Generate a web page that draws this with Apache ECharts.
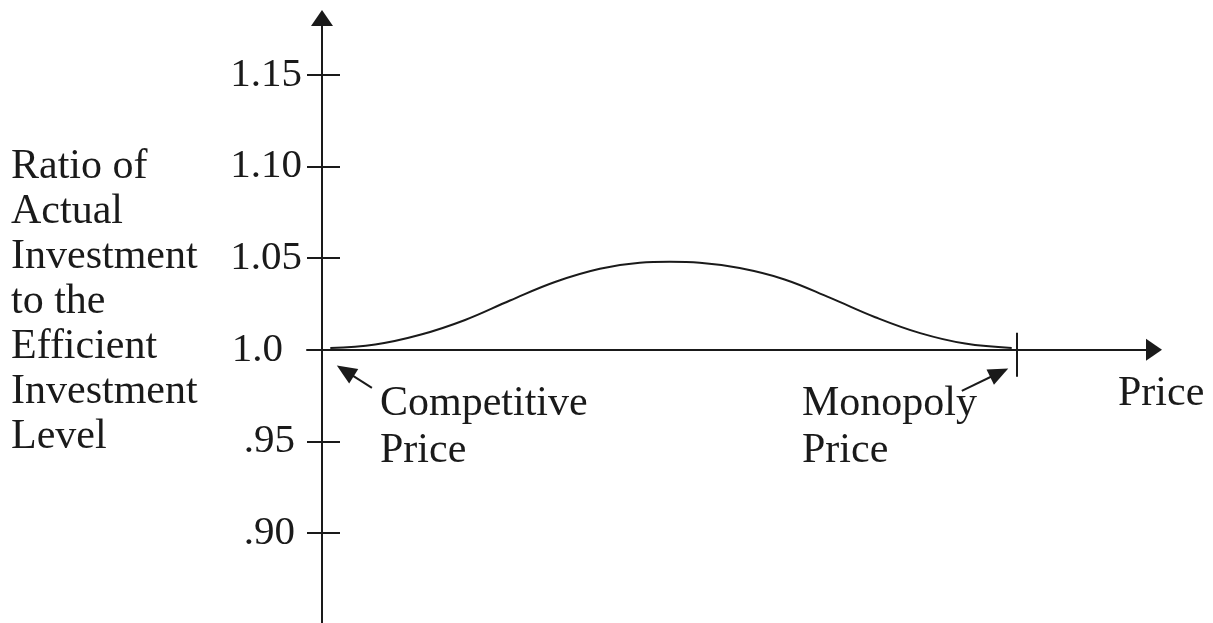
<!DOCTYPE html>
<html>
<head>
    <meta charset="utf-8">
    <title>Ratio of Actual Investment to the Efficient Investment Level</title>
    <script src="https://cdn.jsdelivr.net/npm/echarts@6.0.0/dist/echarts.min.js"></script>
    <style>
        html, body { margin: 0; padding: 0; background: #fff; }
        #chart { width: 1213px; height: 623px; }
    </style>
</head>
<body>
<div id="chart"></div>
<script>
    // price in arbitrary units: competitive price near 1, monopoly price at 83.5
    var prices = [1.0, 6.4, 11.8, 17.2, 22.6, 28.0, 33.4, 38.2, 41.8, 45.4, 50.2, 55.6, 61.1, 66.5, 71.9, 77.3, 82.9];
    var ratios = [1.001, 1.0029, 1.0082, 1.0163, 1.0269, 1.037, 1.0442, 1.0475, 1.048, 1.0475, 1.0446, 1.0384, 1.0283, 1.0178, 1.0091, 1.0034, 1.001];
    var yTickValues = [0.90, 0.95, 1.0, 1.05, 1.10, 1.15];
    var yTickLabels = ['.90', '.95', '1.0', '1.05', '1.10', '1.15'];
    var monopolyPrice = 83.5;
    // annotation arrows, [tail, head] in data units
    var compArrow = [[6.0, 0.9793], [2.8, 0.9885]];
    var monoArrow = [[76.9, 0.9776], [81.4, 0.9875]];

    var ink = '#1a1a1a';
    var serif = '"Liberation Serif", "Times New Roman", serif';
    var yMin = 0.851, yMax = 1.181;
    var xMin = -1.8, xMax = 100;
    var gridTop = 18, gridBottom = 0;
    var gridHeight = 623 - gridTop - gridBottom;
    // x axis sits on ratio = 1.0
    var xOffset = -gridHeight * (1.0 - yMin) / (yMax - yMin);

    function tickLabel(value) {
        for (var i = 0; i < yTickValues.length; i++) {
            if (Math.abs(value - yTickValues[i]) < 1e-6) {
                var t = yTickLabels[i];
                if (t === '1.0') return '{wide|' + t + '}';
                if (t.charAt(0) === '.') return '{mid|' + t + '}';
                return '{base|' + t + '}';
            }
        }
        return '';
    }

    var tickFont = { color: ink, fontFamily: serif, fontSize: 41 };

    var chart = echarts.init(document.getElementById('chart'));
    var option = {
        animation: false,
        backgroundColor: '#fff',
        grid: {
            left: 307,
            right: 59,
            top: gridTop,
            bottom: gridBottom,
            containLabel: false,
            outerBoundsMode: 'none'
        },
        xAxis: [{
            type: 'value',
            min: xMin,
            max: xMax,
            position: 'bottom',
            offset: xOffset,
            axisLine: {
                show: true,
                onZero: false,
                symbol: ['none', 'triangle'],
                symbolSize: [22, 16],
                lineStyle: { color: ink, width: 2 }
            },
            axisTick: {
                show: true,
                customValues: [monopolyPrice],
                length: 27,
                lineStyle: { color: ink, width: 2 }
            },
            axisLabel: { show: false },
            splitLine: { show: false }
        }, {
            type: 'value',
            min: xMin,
            max: xMax,
            position: 'bottom',
            offset: xOffset,
            axisLine: { show: false, onZero: false },
            axisTick: {
                show: true,
                inside: true,
                customValues: [monopolyPrice],
                length: 17,
                lineStyle: { color: ink, width: 2 }
            },
            axisLabel: { show: false },
            splitLine: { show: false }
        }],
        yAxis: [{
            type: 'value',
            min: yMin,
            max: yMax,
            position: 'left',
            axisLine: {
                show: true,
                onZero: true,
                onZeroAxisIndex: 0,
                symbol: ['none', 'triangle'],
                symbolSize: [22, 16],
                lineStyle: { color: ink, width: 2 }
            },
            axisTick: {
                show: true,
                customValues: yTickValues,
                length: 15,
                lineStyle: { color: ink, width: 2 }
            },
            axisLabel: {
                show: true,
                customValues: yTickValues,
                formatter: tickLabel,
                margin: 5,
                color: ink,
                fontFamily: serif,
                fontSize: 41,
                rich: {
                    base: Object.assign({ padding: [0, 0, 0, 0] }, tickFont),
                    mid: Object.assign({ padding: [0, 7, 0, 0] }, tickFont),
                    wide: Object.assign({ padding: [0, 19, 0, 0] }, tickFont)
                }
            },
            splitLine: { show: false }
        }, {
            type: 'value',
            min: yMin,
            max: yMax,
            position: 'left',
            axisLine: { show: false, onZero: true, onZeroAxisIndex: 0 },
            axisTick: {
                show: true,
                inside: true,
                customValues: yTickValues,
                length: 18,
                lineStyle: { color: ink, width: 2 }
            },
            axisLabel: { show: false },
            splitLine: { show: false }
        }],
        series: [{
            type: 'line',
            xAxisIndex: 0,
            yAxisIndex: 0,
            data: prices.map(function (p, i) { return [p, ratios[i]]; }),
            smooth: 0.4,
            symbol: 'none',
            lineStyle: { color: ink, width: 2 },
            silent: true,
            markLine: {
                silent: true,
                symbol: ['none', 'triangle'],
                symbolSize: [17, 20],
                label: { show: false },
                emphasis: { disabled: true },
                lineStyle: { color: ink, width: 2, type: 'solid' },
                data: [
                    [{ coord: compArrow[0] }, { coord: compArrow[1] }],
                    [{ coord: monoArrow[0] }, { coord: monoArrow[1] }]
                ]
            }
        }],
        graphic: [{
            type: 'text',
            left: 11,
            top: 144,
            style: {
                text: 'Ratio of\nActual\nInvestment\nto the\nEfficient\nInvestment\nLevel',
                font: '42px ' + serif,
                lineHeight: 45,
                fill: ink
            }
        }, {
            type: 'text',
            left: 380,
            top: 380,
            style: {
                text: 'Competitive\nPrice',
                font: '42px ' + serif,
                lineHeight: 47,
                fill: ink
            }
        }, {
            type: 'text',
            left: 802,
            top: 380,
            style: {
                text: 'Monopoly\nPrice',
                font: '42px ' + serif,
                lineHeight: 47,
                fill: ink
            }
        }, {
            type: 'text',
            left: 1118,
            top: 373,
            style: {
                text: 'Price',
                font: '42px ' + serif,
                fill: ink
            }
        }]
    };
    chart.setOption(option);
</script>
</body>
</html>
